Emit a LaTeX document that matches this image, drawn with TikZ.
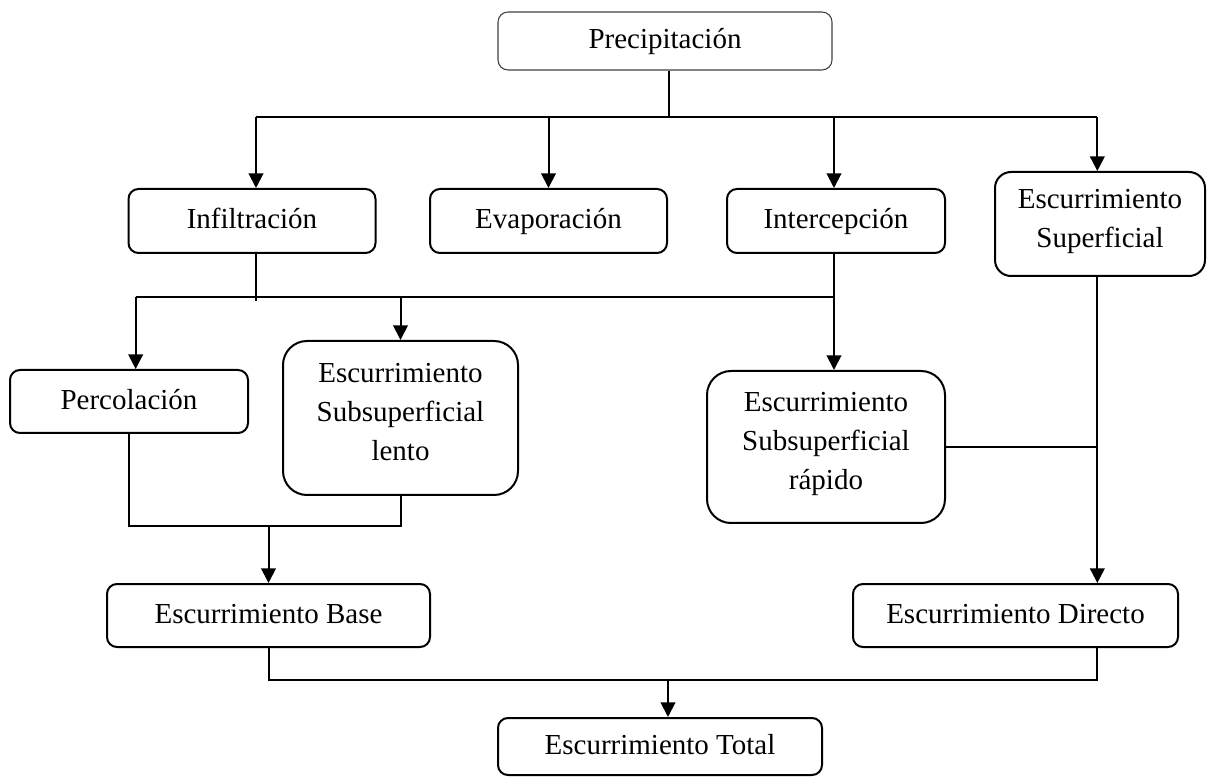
\documentclass[tikz,border=0pt]{standalone}
\usepackage{fontspec}
\setmainfont{Liberation Serif}
\usetikzlibrary{arrows.meta}
\begin{document}
\begin{tikzpicture}[x=0.75pt,y=-0.75pt,
  box/.style={draw, line width=1.5pt, rounded corners=7.5pt, align=center, inner sep=0pt,
    font=\fontsize{21.75pt}{29.25pt}\selectfont,
    execute at begin node=\strut, execute at end node=\strut},
  bigbox/.style={box, rounded corners=18pt},
  bus/.style={line width=1.5pt},
  thinline/.style={line width=0.8pt},
  arr/.style={line width=1.5pt, -{Triangle[width=11pt,length=11pt]}}]
\useasboundingbox (0,0) rectangle (1208,777);
% nodes
\node[box, draw=black!75, line width=0.8pt, minimum width=334*0.75pt, minimum height=58*0.75pt] (pre) at (665,41) {Precipitación};
\node[box, minimum width=247*0.75pt, minimum height=64*0.75pt] (inf) at (252,221) {Infiltración};
\node[box, minimum width=237*0.75pt, minimum height=64*0.75pt] (eva) at (548.5,221) {Evaporación};
\node[box, minimum width=218*0.75pt, minimum height=64*0.75pt] (int) at (836,221) {Intercepción};
\node[box, rounded corners=12pt, minimum width=210*0.75pt, minimum height=104*0.75pt] (sup) at (1100,224) {Escurrimiento\\Superficial};
\node[box, minimum width=238*0.75pt, minimum height=63*0.75pt] (per) at (129,401.5) {Percolación};
\node[bigbox, minimum width=235*0.75pt, minimum height=154*0.75pt] (len) at (400.5,418) {Escurrimiento\\Subsuperficial\\lento};
\node[bigbox, minimum width=238*0.75pt, minimum height=152*0.75pt] (rap) at (826,447) {Escurrimiento\\Subsuperficial\\rápido};
\node[box, minimum width=323*0.75pt, minimum height=63*0.75pt] (base) at (268.5,615.5) {Escurrimiento Base};
\node[box, minimum width=325*0.75pt, minimum height=63*0.75pt] (dir) at (1015.5,615.5) {Escurrimiento Directo};
\node[box, minimum width=324*0.75pt, minimum height=57*0.75pt] (tot) at (660,746.5) {Escurrimiento Total};
% bus levels
\coordinate (b1) at (0,117);
\coordinate (b2) at (0,297);
\coordinate (b3) at (0,526);
\coordinate (b4) at (0,680);
\coordinate (pinf) at ([xshift=3pt]inf.north);
\coordinate (pper) at ([xshift=5pt]per.north);
\coordinate (psup) at ([xshift=-2pt]sup.north);
\coordinate (pint) at ([xshift=-1.5pt]int.south);
\coordinate (ptot) at ([xshift=6pt]tot.north);
% connectors
\draw[thinline] ([xshift=3pt]pre.south) -- ([xshift=3pt]pre.south |- b1);
\draw[bus] (pinf |- b1) -- (psup |- b1);
\draw[arr] (pinf |- b1) -- (pinf);
\draw[arr] (eva.north |- b1) -- (eva.north);
\draw[arr] (pint |- b1) -- (pint |- int.north);
\draw[arr] (psup |- b1) -- (psup);
\draw[thinline] (pinf |- inf.south) -- ([yshift=-3pt]pinf |- b2);
\draw[bus] (pper |- b2) -- (pint |- b2);
\draw[arr] (pper |- b2) -- (pper);
\draw[arr] (len.north |- b2) -- (len.north);
\draw[arr] (pint) -- (pint |- rap.north);
\draw[bus] (rap.east) -- (psup |- rap.east);
\draw[arr] (psup |- sup.south) -- (psup |- dir.north);
\draw[bus] (per.south) -- (per.south |- b3) -- (len.south |- b3) -- (len.south);
\draw[arr] (base.north |- b3) -- (base.north);
\draw[bus] (base.south) -- (base.south |- b4) -- (psup |- b4) -- (psup |- dir.south);
\draw[arr] (ptot |- b4) -- (ptot);
\end{tikzpicture}
\end{document}
